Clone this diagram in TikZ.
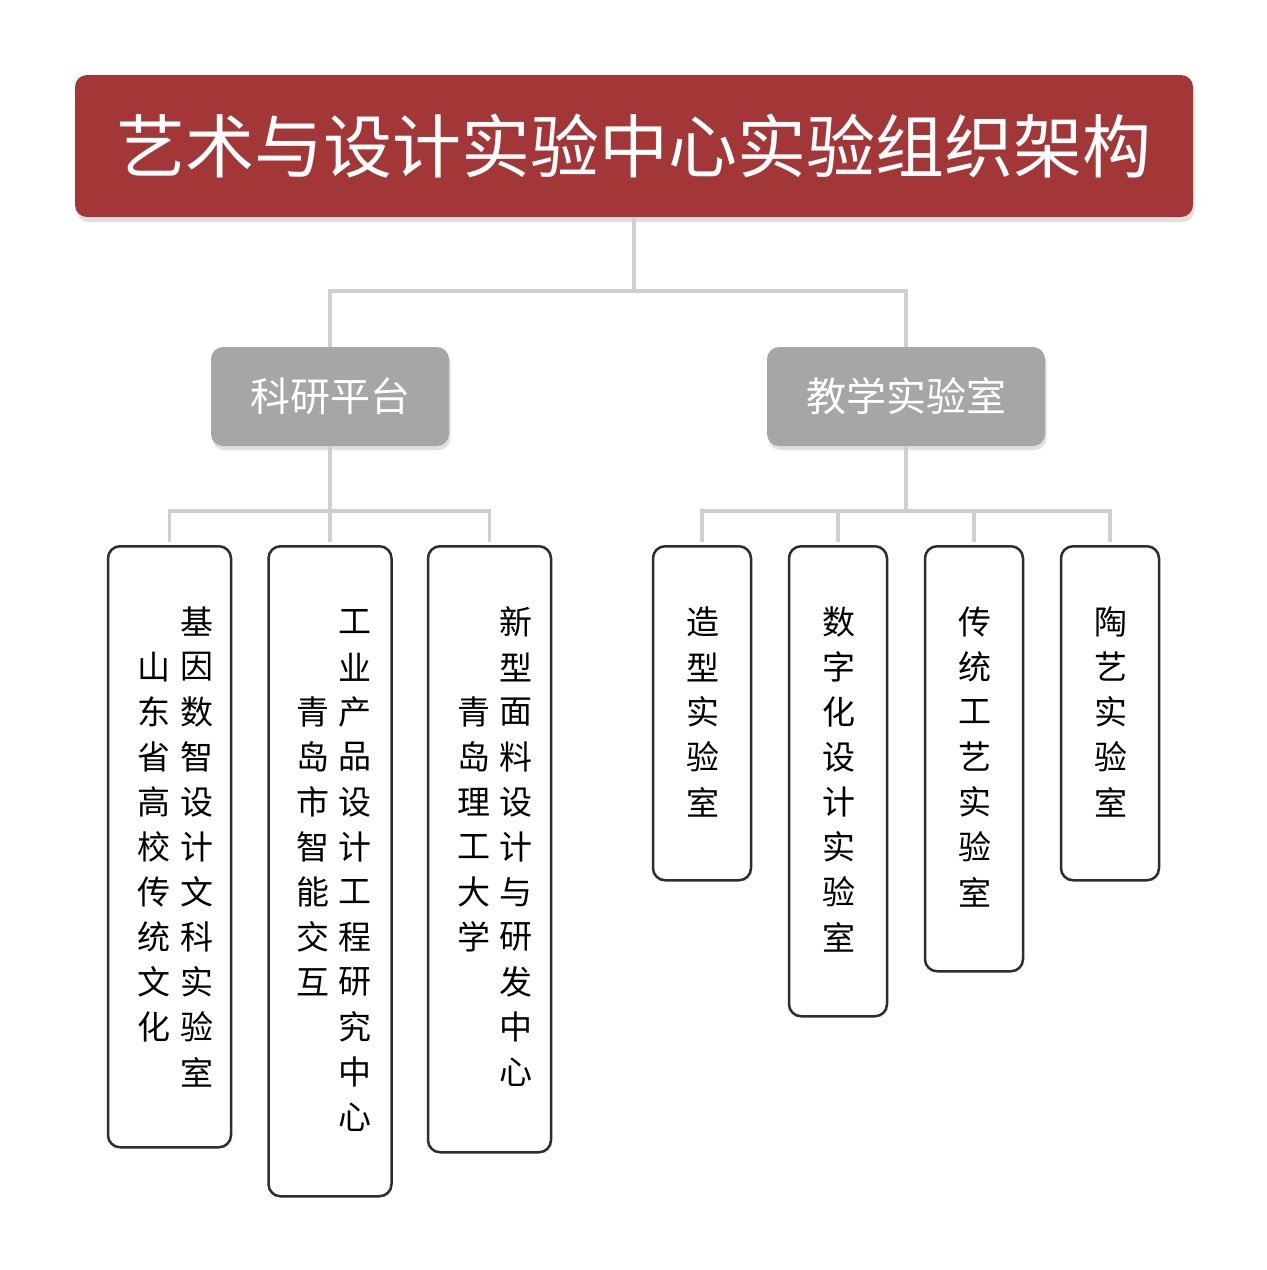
\documentclass[tikz,border=0pt]{standalone}
\usepackage{fontspec}
\setmainfont{Noto Sans CJK SC}
\usetikzlibrary{positioning,shadows}
\definecolor{headred}{HTML}{A33636}
\definecolor{platgrey}{HTML}{A6A6A6}
\definecolor{linkgrey}{HTML}{CFCFCF}
\definecolor{boxline}{HTML}{2E2E2E}

\begin{document}
\begin{tikzpicture}[x=1pt,y=-1pt,
  head/.style={rectangle,rounded corners=12pt,fill=headred,text=white,inner sep=0pt,
    minimum width=1118pt,minimum height=142pt,font=\fontsize{69}{80}\selectfont,
    drop shadow={shadow xshift=1.5pt,shadow yshift=-5pt,fill=black!12,opacity=1}},
  plat/.style={rectangle,rounded corners=12pt,fill=platgrey,text=white,inner sep=0pt,
    minimum height=99pt,font=\fontsize{40}{48}\selectfont,
    drop shadow={shadow xshift=1.5pt,shadow yshift=-4pt,fill=black!12,opacity=1}},
  lab/.style={rectangle,rounded corners=12pt,draw=boxline,line width=2.5pt,fill=white,
    inner sep=0pt,anchor=north},
  glyph/.style={inner sep=0pt,font=\fontsize{33}{40}\selectfont},
  link/.style={draw=linkgrey,line width=3.5pt}]
  \path[fill=white,use as bounding box] (0,0) rectangle (1267,1270);

  % title and the two branches
  \node[head] (head) at (634,146) {艺术与设计实验中心实验组织架构};
  \node[plat,minimum width=238pt] (kyan) at (330,396.5) {科研平台};
  \node[plat,minimum width=278pt] (jxue) at (906,396.5) {教学实验室};

  % research units
  \node[lab,minimum width=123pt,minimum height=601pt] (shan) at (169.5,545) {};
  \node[lab,minimum width=123pt,minimum height=650pt] (gong) at (330,545) {};
  \node[lab,minimum width=123pt,minimum height=606pt] (xinx) at (489.5,545) {};
  % teaching labs
  \node[lab,minimum width=98pt,minimum height=334pt] (zaox) at (702,545) {};
  \node[lab,minimum width=98pt,minimum height=470pt] (shuz) at (838,545) {};
  \node[lab,minimum width=98pt,minimum height=425pt] (chua) at (974,545) {};
  \node[lab,minimum width=98pt,minimum height=334pt] (taoy) at (1110,545) {};

  % vertical texts
  \foreach \c [count=\i from 0] in {山,东,省,高,校,传,统,文,化}
    \node[glyph] (shanA\i) at (154,667+45*\i) {\c};
  \foreach \c [count=\i from 0] in {基,因,数,智,设,计,文,科,实,验,室}
    \node[glyph] (shanB\i) at (197,622+45*\i) {\c};
  \foreach \c [count=\i from 0] in {青,岛,市,智,能,交,互}
    \node[glyph] (gongA\i) at (313,712+45*\i) {\c};
  \foreach \c [count=\i from 0] in {工,业,产,品,设,计,工,程,研,究,中,心}
    \node[glyph] (gongB\i) at (355,622+45*\i) {\c};
  \foreach \c [count=\i from 0] in {青,岛,理,工,大,学}
    \node[glyph] (xinxA\i) at (474,712+45*\i) {\c};
  \foreach \c [count=\i from 0] in {新,型,面,料,设,计,与,研,发,中,心}
    \node[glyph] (xinxB\i) at (516,622+45*\i) {\c};
  \foreach \c [count=\i from 0] in {造,型,实,验,室}
    \node[glyph] (zaox\i) at (703,622+45*\i) {\c};
  \foreach \c [count=\i from 0] in {数,字,化,设,计,实,验,室}
    \node[glyph] (shuz\i) at (839,622+45*\i) {\c};
  \foreach \c [count=\i from 0] in {传,统,工,艺,实,验,室}
    \node[glyph] (chua\i) at (975,622+45*\i) {\c};
  \foreach \c [count=\i from 0] in {陶,艺,实,验,室}
    \node[glyph] (taoy\i) at (1111,622+45*\i) {\c};

  % connectors
  \coordinate (hub) at (634,291);
  \coordinate (khub) at (330,511);
  \coordinate (jhub) at (906,511);
  \draw[link] (head.south) -- (hub);
  \draw[link] (hub) -| (kyan.north);
  \draw[link] (hub) -| (jxue.north);
  \draw[link] (kyan.south) -- (khub);
  \draw[link] (jxue.south) -- (jhub);
  \draw[link,shorten >=3pt] (khub) -| (shan.north);
  \draw[link,shorten >=3pt] (khub) -| (gong.north);
  \draw[link,shorten >=3pt] (khub) -| (xinx.north);
  \draw[link,shorten >=3pt] (jhub) -| (zaox.north);
  \draw[link,shorten >=3pt] (jhub) -| (shuz.north);
  \draw[link,shorten >=3pt] (jhub) -| (chua.north);
  \draw[link,shorten >=3pt] (jhub) -| (taoy.north);
\end{tikzpicture}
\end{document}
